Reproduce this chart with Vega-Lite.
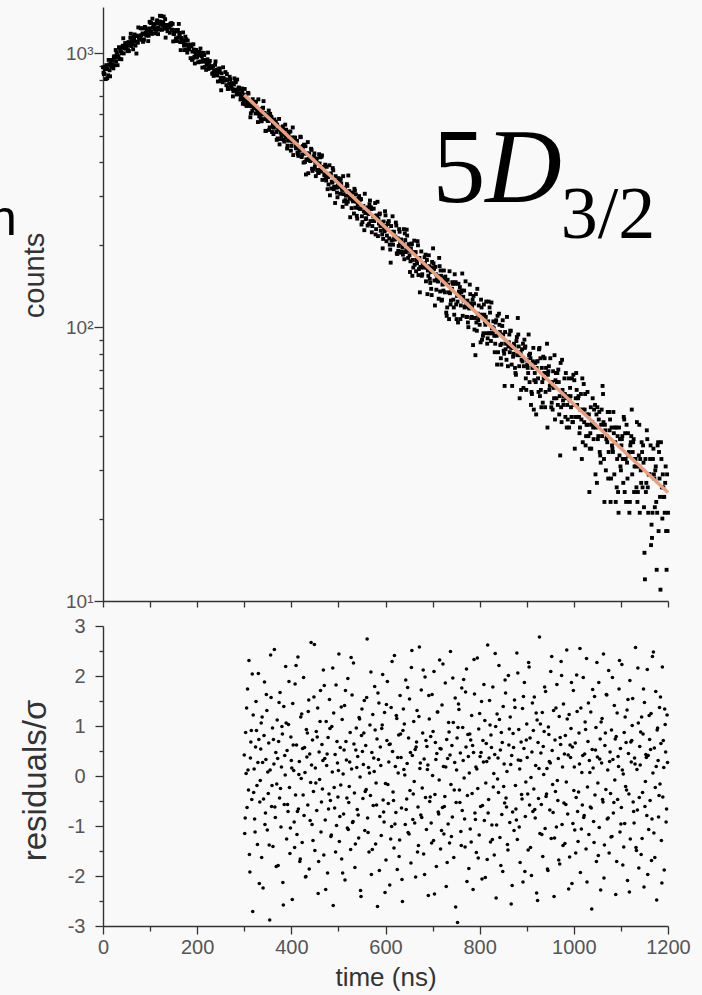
{
"$schema":"https://vega.github.io/schema/vega-lite/v6.json",
"autosize":{"type":"none"},
"padding":{"left":103,"top":7,"right":599,"bottom":988},
"background":"#f9f9f9",
"bounds":"flush",
"spacing":25,
"config":{"view":{"stroke":null},"axis":{"grid":false,"labelFlush":false,"domainColor":"#333","domainWidth":1.4,"tickColor":"#333","tickWidth":1.3,"labelFont":"Liberation Sans","labelFontSize":20,"labelColor":"#555","titleFont":"Liberation Sans","titleFontWeight":"normal","titleColor":"#333"}},
"datasets":{
"fit":[{"t":300,"c":705},{"t":1200,"c":24.9}],
"decay":[
{"t":0,"c":889},{"t":2,"c":839},{"t":4,"c":876},{"t":6,"c":805},{"t":8,"c":899},
{"t":10,"c":876},{"t":12,"c":946},{"t":14,"c":867},{"t":16,"c":915},{"t":18,"c":945},
{"t":20,"c":909},{"t":22,"c":881},{"t":24,"c":976},{"t":26,"c":965},{"t":28,"c":935},
{"t":30,"c":990},{"t":32,"c":976},{"t":34,"c":1053},{"t":36,"c":953},{"t":38,"c":1016},
{"t":40,"c":1001},{"t":42,"c":1066},{"t":44,"c":999},{"t":46,"c":1043},{"t":48,"c":1040},
{"t":50,"c":1066},{"t":52,"c":1018},{"t":54,"c":1099},{"t":56,"c":1072},{"t":58,"c":1139},
{"t":60,"c":1063},{"t":62,"c":1100},{"t":64,"c":1034},{"t":66,"c":1131},{"t":68,"c":1156},
{"t":70,"c":1104},{"t":72,"c":1161},{"t":74,"c":1093},{"t":76,"c":1146},{"t":78,"c":1136},
{"t":80,"c":1234},{"t":82,"c":1120},{"t":84,"c":1182},{"t":86,"c":1112},{"t":88,"c":1174},
{"t":90,"c":1233},{"t":92,"c":1161},{"t":94,"c":1208},{"t":96,"c":1108},{"t":98,"c":1233},
{"t":100,"c":1197},{"t":102,"c":1290},{"t":104,"c":1177},{"t":106,"c":1240},{"t":108,"c":1277},
{"t":110,"c":1223},{"t":112,"c":1182},{"t":114,"c":1303},{"t":116,"c":1284},{"t":118,"c":1238},
{"t":120,"c":1307},{"t":122,"c":1276},{"t":124,"c":1368},{"t":126,"c":1224},{"t":128,"c":1298},
{"t":130,"c":1267},{"t":132,"c":1332},{"t":134,"c":1230},{"t":136,"c":1269},{"t":138,"c":1248},
{"t":140,"c":1263},{"t":142,"c":1188},{"t":144,"c":1267},{"t":146,"c":1219},{"t":148,"c":1280},
{"t":150,"c":1176},{"t":152,"c":1200},{"t":154,"c":1111},{"t":156,"c":1203},{"t":158,"c":1215},
{"t":160,"c":1144},{"t":162,"c":1187},{"t":164,"c":1099},{"t":166,"c":1138},{"t":168,"c":1112},
{"t":170,"c":1192},{"t":172,"c":1066},{"t":174,"c":1112},{"t":176,"c":1028},{"t":178,"c":1074},
{"t":180,"c":1113},{"t":182,"c":1035},{"t":184,"c":1064},{"t":186,"c":960},{"t":188,"c":1059},
{"t":190,"c":1014},{"t":192,"c":1079},{"t":194,"c":971},{"t":196,"c":1011},{"t":198,"c":1029},
{"t":200,"c":972},{"t":202,"c":927},{"t":204,"c":1011},{"t":206,"c":983},{"t":208,"c":934},
{"t":210,"c":975},{"t":212,"c":945},{"t":214,"c":1004},{"t":216,"c":891},{"t":218,"c":937},
{"t":220,"c":907},{"t":222,"c":951},{"t":224,"c":877},{"t":226,"c":902},{"t":228,"c":886},
{"t":230,"c":894},{"t":232,"c":842},{"t":234,"c":898},{"t":236,"c":864},{"t":238,"c":908},
{"t":240,"c":834},{"t":242,"c":852},{"t":244,"c":789},{"t":246,"c":855},{"t":248,"c":864},
{"t":250,"c":813},{"t":252,"c":845},{"t":254,"c":784},{"t":256,"c":813},{"t":258,"c":795},
{"t":260,"c":854},{"t":262,"c":765},{"t":264,"c":799},{"t":266,"c":741},{"t":268,"c":775},
{"t":270,"c":805},{"t":272,"c":749},{"t":274,"c":771},{"t":276,"c":696},{"t":278,"c":769},
{"t":280,"c":737},{"t":282,"c":784},{"t":284,"c":707},{"t":286,"c":736},{"t":288,"c":750},
{"t":290,"c":709},{"t":292,"c":678},{"t":294,"c":738},{"t":296,"c":719},{"t":298,"c":684},
{"t":300,"c":701},{"t":302,"c":651},{"t":304,"c":706},{"t":306,"c":674},{"t":308,"c":717},
{"t":310,"c":646},{"t":312,"c":665},{"t":314,"c":604},{"t":316,"c":670},{"t":318,"c":680},
{"t":320,"c":630},{"t":322,"c":663},{"t":324,"c":603},{"t":326,"c":634},{"t":328,"c":617},
{"t":330,"c":679},{"t":332,"c":588},{"t":334,"c":624},{"t":336,"c":565},{"t":338,"c":600},
{"t":340,"c":633},{"t":342,"c":575},{"t":344,"c":598},{"t":346,"c":521},{"t":348,"c":598},
{"t":350,"c":567},{"t":352,"c":618},{"t":354,"c":536},{"t":356,"c":568},{"t":358,"c":583},
{"t":360,"c":540},{"t":362,"c":507},{"t":364,"c":573},{"t":366,"c":553},{"t":368,"c":516},
{"t":370,"c":549},{"t":372,"c":526},{"t":374,"c":576},{"t":376,"c":486},{"t":378,"c":525},
{"t":380,"c":504},{"t":382,"c":541},{"t":384,"c":483},{"t":386,"c":506},{"t":388,"c":494},
{"t":390,"c":503},{"t":392,"c":460},{"t":394,"c":508},{"t":396,"c":481},{"t":398,"c":518},
{"t":400,"c":459},{"t":402,"c":476},{"t":404,"c":425},{"t":406,"c":481},{"t":408,"c":491},
{"t":410,"c":450},{"t":412,"c":479},{"t":414,"c":428},{"t":416,"c":455},{"t":418,"c":441},
{"t":420,"c":494},{"t":422,"c":418},{"t":424,"c":448},{"t":426,"c":399},{"t":428,"c":430},
{"t":430,"c":458},{"t":432,"c":410},{"t":434,"c":431},{"t":436,"c":365},{"t":438,"c":431},
{"t":440,"c":404},{"t":442,"c":448},{"t":444,"c":379},{"t":446,"c":407},{"t":448,"c":420},
{"t":450,"c":385},{"t":452,"c":356},{"t":454,"c":413},{"t":456,"c":396},{"t":458,"c":366},
{"t":460,"c":396},{"t":462,"c":377},{"t":464,"c":419},{"t":466,"c":345},{"t":468,"c":378},
{"t":470,"c":359},{"t":472,"c":392},{"t":474,"c":343},{"t":476,"c":362},{"t":478,"c":353},
{"t":480,"c":363},{"t":482,"c":303},{"t":484,"c":364},{"t":486,"c":340},{"t":488,"c":381},
{"t":490,"c":319},{"t":492,"c":343},{"t":494,"c":356},{"t":496,"c":323},{"t":498,"c":298},
{"t":500,"c":350},{"t":502,"c":335},{"t":504,"c":307},{"t":506,"c":335},{"t":508,"c":317},
{"t":510,"c":356},{"t":512,"c":288},{"t":514,"c":318},{"t":516,"c":302},{"t":518,"c":333},
{"t":520,"c":287},{"t":522,"c":305},{"t":524,"c":296},{"t":526,"c":304},{"t":528,"c":272},
{"t":530,"c":310},{"t":532,"c":290},{"t":534,"c":320},{"t":536,"c":273},{"t":538,"c":287},
{"t":540,"c":249},{"t":542,"c":294},{"t":544,"c":301},{"t":546,"c":270},{"t":548,"c":293},
{"t":550,"c":254},{"t":552,"c":275},{"t":554,"c":265},{"t":556,"c":307},{"t":558,"c":248},
{"t":560,"c":272},{"t":562,"c":235},{"t":564,"c":259},{"t":566,"c":281},{"t":568,"c":244},
{"t":570,"c":270},{"t":572,"c":234},{"t":574,"c":254},{"t":576,"c":244},{"t":578,"c":284},
{"t":580,"c":228},{"t":582,"c":251},{"t":584,"c":215},{"t":586,"c":239},{"t":588,"c":260},
{"t":590,"c":225},{"t":592,"c":241},{"t":594,"c":194},{"t":596,"c":243},{"t":598,"c":224},
{"t":600,"c":256},{"t":602,"c":206},{"t":604,"c":227},{"t":606,"c":238},{"t":608,"c":211},
{"t":610,"c":192},{"t":612,"c":234},{"t":614,"c":223},{"t":616,"c":200},{"t":618,"c":223},
{"t":620,"c":209},{"t":622,"c":241},{"t":624,"c":186},{"t":626,"c":211},{"t":628,"c":198},
{"t":630,"c":223},{"t":632,"c":187},{"t":634,"c":202},{"t":636,"c":196},{"t":638,"c":202},
{"t":640,"c":177},{"t":642,"c":208},{"t":644,"c":191},{"t":646,"c":216},{"t":648,"c":179},
{"t":650,"c":190},{"t":652,"c":159},{"t":654,"c":194},{"t":656,"c":201},{"t":658,"c":176},
{"t":660,"c":188},{"t":662,"c":169},{"t":664,"c":188},{"t":666,"c":176},{"t":668,"c":206},
{"t":670,"c":155},{"t":672,"c":179},{"t":674,"c":166},{"t":676,"c":189},{"t":678,"c":156},
{"t":680,"c":171},{"t":682,"c":165},{"t":684,"c":171},{"t":686,"c":147},{"t":688,"c":176},
{"t":690,"c":161},{"t":692,"c":183},{"t":694,"c":150},{"t":696,"c":159},{"t":698,"c":131},
{"t":700,"c":165},{"t":702,"c":171},{"t":704,"c":148},{"t":706,"c":166},{"t":708,"c":137},
{"t":710,"c":154},{"t":712,"c":147},{"t":714,"c":179},{"t":716,"c":135},{"t":718,"c":154},
{"t":720,"c":126},{"t":722,"c":144},{"t":724,"c":161},{"t":726,"c":134},{"t":728,"c":147},
{"t":730,"c":110},{"t":732,"c":149},{"t":734,"c":134},{"t":736,"c":160},{"t":738,"c":121},
{"t":740,"c":138},{"t":742,"c":146},{"t":744,"c":126},{"t":746,"c":111},{"t":748,"c":144},
{"t":750,"c":121},{"t":752,"c":130},{"t":754,"c":104},{"t":756,"c":135},{"t":758,"c":140},
{"t":760,"c":120},{"t":762,"c":136},{"t":764,"c":110},{"t":766,"c":125},{"t":768,"c":118},
{"t":770,"c":147},{"t":772,"c":109},{"t":774,"c":125},{"t":776,"c":100},{"t":778,"c":117},
{"t":780,"c":132},{"t":782,"c":108},{"t":784,"c":119},{"t":786,"c":86},{"t":788,"c":122},
{"t":790,"c":108},{"t":792,"c":132},{"t":794,"c":97},{"t":796,"c":112},{"t":798,"c":120},
{"t":800,"c":102},{"t":802,"c":88},{"t":804,"c":118},{"t":806,"c":111},{"t":808,"c":95},
{"t":810,"c":111},{"t":812,"c":102},{"t":814,"c":124},{"t":816,"c":87},{"t":818,"c":105},
{"t":820,"c":95},{"t":822,"c":113},{"t":824,"c":89},{"t":826,"c":99},{"t":828,"c":95},
{"t":830,"c":99},{"t":832,"c":81},{"t":834,"c":104},{"t":836,"c":93},{"t":838,"c":110},
{"t":840,"c":95},{"t":842,"c":102},{"t":844,"c":86},{"t":846,"c":73},{"t":848,"c":101},
{"t":850,"c":94},{"t":852,"c":80},{"t":854,"c":96},{"t":856,"c":87},{"t":858,"c":109},
{"t":860,"c":72},{"t":862,"c":88},{"t":864,"c":81},{"t":866,"c":97},{"t":868,"c":73},
{"t":870,"c":84},{"t":872,"c":80},{"t":874,"c":85},{"t":876,"c":68},{"t":878,"c":89},
{"t":880,"c":79},{"t":882,"c":94},{"t":884,"c":72},{"t":886,"c":79},{"t":888,"c":59},
{"t":890,"c":83},{"t":892,"c":87},{"t":894,"c":72},{"t":896,"c":84},{"t":898,"c":65},
{"t":900,"c":76},{"t":902,"c":71},{"t":904,"c":94},{"t":906,"c":63},{"t":908,"c":77},
{"t":910,"c":58},{"t":912,"c":71},{"t":914,"c":84},{"t":916,"c":64},{"t":918,"c":74},
{"t":920,"c":48},{"t":922,"c":75},{"t":924,"c":65},{"t":926,"c":83},{"t":928,"c":56},
{"t":930,"c":59},{"t":932,"c":71},{"t":934,"c":53},{"t":936,"c":65},{"t":938,"c":77},
{"t":940,"c":58},{"t":942,"c":68},{"t":944,"c":43},{"t":946,"c":69},{"t":948,"c":59},
{"t":950,"c":77},{"t":952,"c":51},{"t":954,"c":63},{"t":956,"c":69},{"t":958,"c":55},
{"t":960,"c":46},{"t":962,"c":68},{"t":964,"c":63},{"t":966,"c":52},{"t":968,"c":63},
{"t":970,"c":56},{"t":972,"c":74},{"t":974,"c":45},{"t":976,"c":59},{"t":978,"c":52},
{"t":980,"c":65},{"t":982,"c":47},{"t":984,"c":55},{"t":986,"c":52},{"t":988,"c":56},
{"t":990,"c":43},{"t":992,"c":60},{"t":994,"c":51},{"t":996,"c":65},{"t":998,"c":45},
{"t":1000,"c":52},{"t":1002,"c":36},{"t":1004,"c":55},{"t":1006,"c":59},{"t":1008,"c":47},
{"t":1010,"c":56},{"t":1012,"c":41},{"t":1014,"c":50},{"t":1016,"c":46},{"t":1018,"c":65},
{"t":1020,"c":50},{"t":1022,"c":45},{"t":1024,"c":57},{"t":1026,"c":40},{"t":1028,"c":48},
{"t":1030,"c":44},{"t":1032,"c":48},{"t":1034,"c":36},{"t":1036,"c":51},{"t":1038,"c":44},
{"t":1040,"c":55},{"t":1042,"c":39},{"t":1044,"c":44},{"t":1046,"c":29},{"t":1048,"c":48},
{"t":1050,"c":51},{"t":1052,"c":40},{"t":1054,"c":49},{"t":1056,"c":34},{"t":1058,"c":44},
{"t":1060,"c":40},{"t":1062,"c":57},{"t":1064,"c":33},{"t":1066,"c":44},{"t":1068,"c":30},
{"t":1070,"c":40},{"t":1072,"c":49},{"t":1074,"c":35},{"t":1076,"c":42},{"t":1078,"c":23},
{"t":1080,"c":43},{"t":1082,"c":36},{"t":1084,"c":49},{"t":1086,"c":29},{"t":1088,"c":38},
{"t":1090,"c":43},{"t":1092,"c":33},{"t":1094,"c":25},{"t":1096,"c":43},{"t":1098,"c":39},
{"t":1100,"c":30},{"t":1102,"c":39},{"t":1104,"c":33},{"t":1106,"c":47},{"t":1108,"c":25},
{"t":1110,"c":33},{"t":1112,"c":44},{"t":1114,"c":28},{"t":1116,"c":34},{"t":1118,"c":21},
{"t":1120,"c":37},{"t":1122,"c":40},{"t":1124,"c":29},{"t":1126,"c":38},{"t":1128,"c":25},
{"t":1130,"c":33},{"t":1132,"c":31},{"t":1134,"c":45},{"t":1136,"c":25},{"t":1138,"c":34},
{"t":1140,"c":21},{"t":1142,"c":30},{"t":1144,"c":38},{"t":1146,"c":26},{"t":1148,"c":32},
{"t":1150,"c":15},{"t":1152,"c":33},{"t":1154,"c":27},{"t":1156,"c":39},{"t":1158,"c":21},
{"t":1160,"c":29},{"t":1162,"c":33},{"t":1164,"c":16},{"t":1166,"c":17},{"t":1168,"c":33},
{"t":1170,"c":29},{"t":1172,"c":22},{"t":1174,"c":31},{"t":1176,"c":13},{"t":1178,"c":37},
{"t":1180,"c":18},{"t":1182,"c":28},{"t":1184,"c":11},{"t":1186,"c":33},{"t":1188,"c":20},
{"t":1190,"c":26},{"t":1192,"c":24},{"t":1194,"c":27},{"t":1196,"c":18},{"t":1198,"c":29},
{"t":1200,"c":21},
{"t":1,"c":849},{"t":3,"c":843},{"t":5,"c":890},{"t":7,"c":905},{"t":9,"c":811},
{"t":11,"c":831},{"t":13,"c":910},{"t":15,"c":824},{"t":17,"c":904},{"t":19,"c":893},
{"t":21,"c":939},{"t":23,"c":967},{"t":25,"c":905},{"t":27,"c":1028},{"t":29,"c":1009},
{"t":31,"c":905},{"t":33,"c":969},{"t":35,"c":1043},{"t":37,"c":1017},{"t":39,"c":951},
{"t":41,"c":1050},{"t":43,"c":1135},{"t":45,"c":1056},{"t":47,"c":1090},{"t":49,"c":1046},
{"t":51,"c":1064},{"t":53,"c":1028},{"t":55,"c":1019},{"t":57,"c":1080},{"t":59,"c":1179},
{"t":61,"c":1115},{"t":63,"c":1077},{"t":65,"c":1149},{"t":67,"c":1172},{"t":69,"c":1067},
{"t":71,"c":998},{"t":73,"c":1101},{"t":75,"c":1243},{"t":77,"c":1130},{"t":79,"c":1153},
{"t":81,"c":1165},{"t":83,"c":1234},{"t":85,"c":1101},{"t":87,"c":1124},{"t":89,"c":1248},
{"t":91,"c":1189},{"t":93,"c":1213},{"t":95,"c":1165},{"t":97,"c":1159},{"t":99,"c":1303},
{"t":101,"c":1293},{"t":103,"c":1202},{"t":105,"c":1338},{"t":107,"c":1247},{"t":109,"c":1279},
{"t":111,"c":1236},{"t":113,"c":1218},{"t":115,"c":1320},{"t":117,"c":1175},{"t":119,"c":1220},
{"t":121,"c":1371},{"t":123,"c":1301},{"t":125,"c":1219},{"t":127,"c":1265},{"t":129,"c":1362},
{"t":131,"c":1244},{"t":133,"c":1141},{"t":135,"c":1243},{"t":137,"c":1204},{"t":139,"c":1260},
{"t":141,"c":1240},{"t":143,"c":1280},{"t":145,"c":1290},{"t":147,"c":1219},{"t":149,"c":1105},
{"t":151,"c":1177},{"t":153,"c":1216},{"t":155,"c":1135},{"t":157,"c":1109},{"t":159,"c":1217},
{"t":161,"c":1280},{"t":163,"c":1174},{"t":165,"c":1027},{"t":167,"c":1136},{"t":169,"c":1109},
{"t":171,"c":1096},{"t":173,"c":1027},{"t":175,"c":1150},{"t":177,"c":1124},{"t":179,"c":1006},
{"t":181,"c":1058},{"t":183,"c":1034},{"t":185,"c":1073},{"t":187,"c":1076},{"t":189,"c":946},
{"t":191,"c":957},{"t":193,"c":1032},{"t":195,"c":918},{"t":197,"c":992},{"t":199,"c":965},
{"t":201,"c":998},{"t":203,"c":1011},{"t":205,"c":930},{"t":207,"c":1041},{"t":209,"c":1004},
{"t":211,"c":887},{"t":213,"c":932},{"t":215,"c":986},{"t":217,"c":946},{"t":219,"c":870},
{"t":221,"c":945},{"t":223,"c":1006},{"t":225,"c":922},{"t":227,"c":938},{"t":229,"c":886},
{"t":231,"c":887},{"t":233,"c":846},{"t":235,"c":827},{"t":237,"c":865},{"t":239,"c":934},
{"t":241,"c":870},{"t":243,"c":830},{"t":245,"c":875},{"t":247,"c":881},{"t":249,"c":792},
{"t":251,"c":733},{"t":253,"c":797},{"t":255,"c":889},{"t":257,"c":797},{"t":259,"c":803},
{"t":261,"c":802},{"t":263,"c":840},{"t":265,"c":741},{"t":267,"c":748},{"t":269,"c":821},
{"t":271,"c":772},{"t":273,"c":779},{"t":275,"c":740},{"t":277,"c":727},{"t":279,"c":810},
{"t":281,"c":792},{"t":283,"c":728},{"t":285,"c":802},{"t":287,"c":737},{"t":289,"c":748},
{"t":291,"c":714},{"t":293,"c":695},{"t":295,"c":744},{"t":297,"c":654},{"t":299,"c":671},
{"t":301,"c":741},{"t":303,"c":695},{"t":305,"c":642},{"t":307,"c":663},{"t":309,"c":713},
{"t":311,"c":643},{"t":313,"c":584},{"t":315,"c":641},{"t":317,"c":617},{"t":319,"c":649},
{"t":321,"c":636},{"t":323,"c":660},{"t":325,"c":666},{"t":327,"c":625},{"t":329,"c":561},
{"t":331,"c":603},{"t":333,"c":626},{"t":335,"c":580},{"t":337,"c":565},{"t":339,"c":629},
{"t":341,"c":669},{"t":343,"c":606},{"t":345,"c":520},{"t":347,"c":588},{"t":349,"c":573},
{"t":351,"c":566},{"t":353,"c":525},{"t":355,"c":601},{"t":357,"c":587},{"t":359,"c":516},
{"t":361,"c":549},{"t":363,"c":535},{"t":365,"c":561},{"t":367,"c":563},{"t":369,"c":483},
{"t":371,"c":489},{"t":373,"c":537},{"t":375,"c":465},{"t":377,"c":513},{"t":379,"c":496},
{"t":381,"c":518},{"t":383,"c":527},{"t":385,"c":476},{"t":387,"c":549},{"t":389,"c":526},
{"t":391,"c":449},{"t":393,"c":480},{"t":395,"c":517},{"t":397,"c":491},{"t":399,"c":441},
{"t":401,"c":493},{"t":403,"c":536},{"t":405,"c":480},{"t":407,"c":493},{"t":409,"c":458},
{"t":411,"c":461},{"t":413,"c":434},{"t":415,"c":422},{"t":417,"c":448},{"t":419,"c":496},
{"t":421,"c":453},{"t":423,"c":426},{"t":425,"c":459},{"t":427,"c":464},{"t":429,"c":401},
{"t":431,"c":361},{"t":433,"c":408},{"t":435,"c":474},{"t":437,"c":410},{"t":439,"c":416},
{"t":441,"c":415},{"t":443,"c":444},{"t":445,"c":372},{"t":447,"c":378},{"t":449,"c":431},
{"t":451,"c":398},{"t":453,"c":403},{"t":455,"c":375},{"t":457,"c":366},{"t":459,"c":428},
{"t":461,"c":417},{"t":463,"c":370},{"t":465,"c":424},{"t":467,"c":377},{"t":469,"c":385},
{"t":471,"c":362},{"t":473,"c":348},{"t":475,"c":385},{"t":477,"c":319},{"t":479,"c":332},
{"t":481,"c":390},{"t":483,"c":358},{"t":485,"c":321},{"t":487,"c":337},{"t":489,"c":374},
{"t":491,"c":325},{"t":493,"c":284},{"t":495,"c":326},{"t":497,"c":310},{"t":499,"c":334},
{"t":501,"c":325},{"t":503,"c":343},{"t":505,"c":348},{"t":507,"c":321},{"t":509,"c":275},
{"t":511,"c":306},{"t":513,"c":323},{"t":515,"c":291},{"t":517,"c":282},{"t":519,"c":328},
{"t":521,"c":358},{"t":523,"c":314},{"t":525,"c":252},{"t":527,"c":302},{"t":529,"c":293},
{"t":531,"c":288},{"t":533,"c":260},{"t":535,"c":315},{"t":537,"c":305},{"t":539,"c":255},
{"t":541,"c":281},{"t":543,"c":272},{"t":545,"c":291},{"t":547,"c":294},{"t":549,"c":237},
{"t":551,"c":242},{"t":553,"c":277},{"t":555,"c":226},{"t":557,"c":261},{"t":559,"c":250},
{"t":561,"c":267},{"t":563,"c":274},{"t":565,"c":238},{"t":567,"c":290},{"t":569,"c":274},
{"t":571,"c":222},{"t":573,"c":244},{"t":575,"c":271},{"t":577,"c":254},{"t":579,"c":218},
{"t":581,"c":256},{"t":583,"c":287},{"t":585,"c":248},{"t":587,"c":258},{"t":589,"c":234},
{"t":591,"c":237},{"t":593,"c":218},{"t":595,"c":210},{"t":597,"c":230},{"t":599,"c":265},
{"t":601,"c":234},{"t":603,"c":216},{"t":605,"c":240},{"t":607,"c":244},{"t":609,"c":200},
{"t":611,"c":172},{"t":613,"c":207},{"t":615,"c":254},{"t":617,"c":209},{"t":619,"c":214},
{"t":621,"c":214},{"t":623,"c":235},{"t":625,"c":185},{"t":627,"c":190},{"t":629,"c":228},
{"t":631,"c":204},{"t":633,"c":209},{"t":635,"c":189},{"t":637,"c":184},{"t":639,"c":228},
{"t":641,"c":220},{"t":643,"c":188},{"t":645,"c":227},{"t":647,"c":195},{"t":649,"c":201},
{"t":651,"c":183},{"t":653,"c":174},{"t":655,"c":202},{"t":657,"c":154},{"t":659,"c":165},
{"t":661,"c":207},{"t":663,"c":186},{"t":665,"c":160},{"t":667,"c":171},{"t":669,"c":199},
{"t":671,"c":163},{"t":673,"c":134},{"t":675,"c":165},{"t":677,"c":154},{"t":679,"c":171},
{"t":681,"c":166},{"t":683,"c":180},{"t":685,"c":184},{"t":687,"c":165},{"t":689,"c":132},
{"t":691,"c":154},{"t":693,"c":167},{"t":695,"c":145},{"t":697,"c":138},{"t":699,"c":173},
{"t":701,"c":194},{"t":703,"c":163},{"t":705,"c":120},{"t":707,"c":156},{"t":709,"c":149},
{"t":711,"c":147},{"t":713,"c":127},{"t":715,"c":167},{"t":717,"c":161},{"t":719,"c":125},
{"t":721,"c":143},{"t":723,"c":136},{"t":725,"c":151},{"t":727,"c":153},{"t":729,"c":113},
{"t":731,"c":118},{"t":733,"c":143},{"t":735,"c":107},{"t":737,"c":133},{"t":739,"c":125},
{"t":741,"c":138},{"t":743,"c":144},{"t":745,"c":118},{"t":747,"c":156},{"t":749,"c":146},
{"t":751,"c":107},{"t":753,"c":124},{"t":755,"c":144},{"t":757,"c":132},{"t":759,"c":107},
{"t":761,"c":134},{"t":763,"c":157},{"t":765,"c":129},{"t":767,"c":136},{"t":769,"c":119},
{"t":771,"c":123},{"t":773,"c":109},{"t":775,"c":104},{"t":777,"c":118},{"t":779,"c":143},
{"t":781,"c":122},{"t":783,"c":109},{"t":785,"c":126},{"t":787,"c":130},{"t":789,"c":98},
{"t":791,"c":79},{"t":793,"c":104},{"t":795,"c":138},{"t":797,"c":106},{"t":799,"c":109},
{"t":801,"c":111},{"t":803,"c":126},{"t":805,"c":90},{"t":807,"c":93},{"t":809,"c":121},
{"t":811,"c":105},{"t":813,"c":109},{"t":815,"c":95},{"t":817,"c":91},{"t":819,"c":124},
{"t":821,"c":118},{"t":823,"c":95},{"t":825,"c":123},{"t":827,"c":100},{"t":829,"c":105},
{"t":831,"c":93},{"t":833,"c":87},{"t":835,"c":106},{"t":837,"c":73},{"t":839,"c":81},
{"t":841,"c":112},{"t":843,"c":96},{"t":845,"c":77},{"t":847,"c":87},{"t":849,"c":106},
{"t":851,"c":82},{"t":853,"c":61},{"t":855,"c":83},{"t":857,"c":76},{"t":859,"c":88},
{"t":861,"c":85},{"t":863,"c":94},{"t":865,"c":97},{"t":867,"c":84},{"t":869,"c":61},
{"t":871,"c":78},{"t":873,"c":87},{"t":875,"c":71},{"t":877,"c":67},{"t":879,"c":92},
{"t":881,"c":108},{"t":883,"c":85},{"t":885,"c":55},{"t":887,"c":81},{"t":889,"c":76},
{"t":891,"c":75},{"t":893,"c":60},{"t":895,"c":90},{"t":897,"c":85},{"t":899,"c":59},
{"t":901,"c":73},{"t":903,"c":68},{"t":905,"c":79},{"t":907,"c":80},{"t":909,"c":52},
{"t":911,"c":57},{"t":913,"c":75},{"t":915,"c":50},{"t":917,"c":68},{"t":919,"c":63},
{"t":921,"c":71},{"t":923,"c":75},{"t":925,"c":58},{"t":927,"c":84},{"t":929,"c":77},
{"t":931,"c":51},{"t":933,"c":63},{"t":935,"c":78},{"t":937,"c":68},{"t":939,"c":51},
{"t":941,"c":71},{"t":943,"c":87},{"t":945,"c":67},{"t":947,"c":72},{"t":949,"c":61},
{"t":951,"c":63},{"t":953,"c":53},{"t":955,"c":50},{"t":957,"c":60},{"t":959,"c":79},
{"t":961,"c":64},{"t":963,"c":55},{"t":965,"c":68},{"t":967,"c":70},{"t":969,"c":48},
{"t":971,"c":34},{"t":973,"c":51},{"t":975,"c":76},{"t":977,"c":54},{"t":979,"c":56},
{"t":981,"c":57},{"t":983,"c":68},{"t":985,"c":43},{"t":987,"c":46},{"t":989,"c":65},
{"t":991,"c":54},{"t":993,"c":56},{"t":995,"c":47},{"t":997,"c":45},{"t":999,"c":67},
{"t":1001,"c":64},{"t":1003,"c":47},{"t":1005,"c":68},{"t":1007,"c":52},{"t":1009,"c":55},
{"t":1011,"c":47},{"t":1013,"c":43},{"t":1015,"c":57},{"t":1017,"c":33},{"t":1019,"c":38},
{"t":1021,"c":62},{"t":1023,"c":50},{"t":1025,"c":37},{"t":1027,"c":44},{"t":1029,"c":58},
{"t":1031,"c":40},{"t":1033,"c":25},{"t":1035,"c":41},{"t":1037,"c":36},{"t":1039,"c":45},
{"t":1041,"c":43},{"t":1043,"c":50},{"t":1045,"c":52},{"t":1047,"c":43},{"t":1049,"c":27},
{"t":1051,"c":39},{"t":1053,"c":46},{"t":1055,"c":35},{"t":1057,"c":32},{"t":1059,"c":50},
{"t":1061,"c":61},{"t":1063,"c":45},{"t":1065,"c":23},{"t":1067,"c":42},{"t":1069,"c":39},
{"t":1071,"c":38},{"t":1073,"c":28},{"t":1075,"c":49},{"t":1077,"c":46},{"t":1079,"c":28},
{"t":1081,"c":37},{"t":1083,"c":35},{"t":1085,"c":41},{"t":1087,"c":43},{"t":1089,"c":23},
{"t":1091,"c":26},{"t":1093,"c":40},{"t":1095,"c":21},{"t":1097,"c":34},{"t":1099,"c":31},
{"t":1101,"c":37},{"t":1103,"c":40},{"t":1105,"c":27},{"t":1107,"c":46},{"t":1109,"c":41},
{"t":1111,"c":23},{"t":1113,"c":32},{"t":1115,"c":41},{"t":1117,"c":35},{"t":1119,"c":23},
{"t":1121,"c":38},{"t":1123,"c":50},{"t":1125,"c":35},{"t":1127,"c":39},{"t":1129,"c":31},
{"t":1131,"c":33},{"t":1133,"c":26},{"t":1135,"c":23},{"t":1137,"c":31},{"t":1139,"c":44},
{"t":1141,"c":33},{"t":1143,"c":27},{"t":1145,"c":35},{"t":1147,"c":37},{"t":1149,"c":22},
{"t":1151,"c":12},{"t":1153,"c":25},{"t":1155,"c":42},{"t":1157,"c":26},{"t":1159,"c":29},
{"t":1161,"c":29},{"t":1163,"c":37},{"t":1165,"c":19},{"t":1167,"c":21},{"t":1169,"c":36},
{"t":1171,"c":28},{"t":1173,"c":30},{"t":1175,"c":23},{"t":1177,"c":21},{"t":1179,"c":38},
{"t":1181,"c":35},{"t":1183,"c":24},{"t":1185,"c":38},{"t":1187,"c":26},{"t":1189,"c":29},
{"t":1191,"c":24},{"t":1193,"c":21},{"t":1195,"c":31},{"t":1197,"c":13},{"t":1199,"c":18}
],
"resid":[
{"t":300,"r":0.42},{"t":301,"r":-1.15},{"t":303,"r":0.87},{"t":304,"r":0.05},{"t":306,"r":-0.63},{"t":307,"r":1.74},{"t":309,"r":-0.28},{"t":310,"r":2.31},{"t":312,"r":-1.92},{"t":313,"r":0.36},
{"t":315,"r":0.91},{"t":316,"r":-0.47},{"t":318,"r":-2.71},{"t":319,"r":1.22},{"t":321,"r":0.14},{"t":322,"r":-0.86},{"t":324,"r":0.58},{"t":325,"r":1.49},{"t":327,"r":-0.19},{"t":328,"r":-1.37},
{"t":330,"r":2.05},{"t":331,"r":0.73},{"t":333,"r":-0.52},{"t":334,"r":-0.09},{"t":336,"r":1.06},{"t":337,"r":-1.63},{"t":339,"r":0.27},{"t":340,"r":-2.24},{"t":342,"r":0.81},{"t":343,"r":1.88},
{"t":345,"r":-0.74},{"t":346,"r":0.33},{"t":348,"r":1.31},{"t":349,"r":-1.08},{"t":351,"r":-0.35},{"t":352,"r":0.66},{"t":354,"r":-2.88},{"t":355,"r":0.12},{"t":357,"r":1.57},{"t":358,"r":-0.61},
{"t":360,"r":0.96},{"t":361,"r":-1.41},{"t":363,"r":0.24},{"t":364,"r":2.53},{"t":366,"r":-0.83},{"t":367,"r":0.47},{"t":369,"r":-0.16},{"t":370,"r":1.12},{"t":372,"r":-1.79},{"t":373,"r":0.69},
{"t":375,"r":-0.44},{"t":376,"r":1.67},{"t":378,"r":-1.02},{"t":379,"r":0.18},{"t":381,"r":0.84},{"t":382,"r":-2.13},{"t":384,"r":1.39},{"t":385,"r":-0.57},{"t":387,"r":0.02},{"t":388,"r":2.19},
{"t":390,"r":-1.26},{"t":391,"r":0.51},{"t":393,"r":-0.71},{"t":394,"r":1.03},{"t":396,"r":-0.23},{"t":397,"r":-1.55},{"t":399,"r":0.78},{"t":400,"r":0.31},{"t":402,"r":-2.47},{"t":403,"r":1.45},
{"t":405,"r":0.11},{"t":406,"r":-0.92},{"t":408,"r":1.84},{"t":409,"r":-0.38},{"t":411,"r":0.62},{"t":412,"r":-1.17},{"t":414,"r":2.38},{"t":415,"r":-0.66},{"t":417,"r":0.29},{"t":418,"r":-1.71},
{"t":420,"r":1.18},{"t":421,"r":-0.05},{"t":423,"r":-1.33},{"t":424,"r":0.55},{"t":426,"r":1.97},{"t":427,"r":-0.79},{"t":429,"r":0.07},{"t":430,"r":-2.02},{"t":432,"r":0.93},{"t":433,"r":0.38},
{"t":435,"r":-0.58},{"t":436,"r":1.29},{"t":438,"r":-1.86},{"t":439,"r":0.44},{"t":441,"r":-0.13},{"t":442,"r":2.67},{"t":444,"r":-0.97},{"t":445,"r":0.72},{"t":447,"r":-0.31},{"t":448,"r":1.58},
{"t":450,"r":-1.49},{"t":451,"r":0.16},{"t":453,"r":0.89},{"t":454,"r":-0.69},{"t":456,"r":1.36},{"t":457,"r":-2.35},{"t":459,"r":0.48},{"t":460,"r":-0.07},{"t":462,"r":1.71},{"t":463,"r":-1.12},
{"t":465,"r":0.63},{"t":466,"r":-0.26},{"t":468,"r":2.12},{"t":469,"r":-1.58},{"t":471,"r":0.35},{"t":472,"r":-0.88},{"t":474,"r":1.09},{"t":475,"r":0.21},{"t":477,"r":-1.94},{"t":478,"r":0.77},
{"t":480,"r":-0.36},{"t":481,"r":1.53},{"t":483,"r":-0.49},{"t":484,"r":-1.21},{"t":486,"r":0.99},{"t":487,"r":0.08},{"t":489,"r":-2.59},{"t":490,"r":1.26},{"t":492,"r":-0.64},{"t":493,"r":0.43},
{"t":495,"r":1.82},{"t":496,"r":-0.99},{"t":498,"r":0.26},{"t":499,"r":-0.42},{"t":501,"r":2.44},{"t":502,"r":-1.31},{"t":504,"r":0.57},{"t":505,"r":-0.18},{"t":507,"r":-1.66},{"t":508,"r":1.13},
{"t":510,"r":0.04},{"t":511,"r":-0.76},{"t":513,"r":1.41},{"t":514,"r":-2.08},{"t":516,"r":0.69},{"t":517,"r":0.32},{"t":519,"r":-1.04},{"t":520,"r":1.95},{"t":522,"r":-0.53},{"t":523,"r":-0.21},
{"t":525,"r":0.87},{"t":526,"r":-1.47},{"t":528,"r":0.14},{"t":529,"r":1.62},{"t":531,"r":-0.91},{"t":532,"r":2.26},{"t":534,"r":-0.34},{"t":535,"r":-1.83},{"t":537,"r":0.52},{"t":538,"r":0.96},
{"t":540,"r":-0.67},{"t":541,"r":0.39},{"t":543,"r":-1.24},{"t":544,"r":1.17},{"t":546,"r":-0.02},{"t":547,"r":-2.29},{"t":549,"r":0.81},{"t":550,"r":1.34},{"t":552,"r":-0.45},{"t":553,"r":0.23},
{"t":555,"r":1.51},{"t":556,"r":-1.09},{"t":558,"r":0.61},{"t":559,"r":-0.27},{"t":561,"r":2.74},{"t":562,"r":-0.84},{"t":564,"r":0.17},{"t":565,"r":-1.52},{"t":567,"r":1.02},{"t":568,"r":-0.39},
{"t":570,"r":-1.97},{"t":571,"r":0.47},{"t":573,"r":1.23},{"t":574,"r":-0.59},{"t":576,"r":0.09},{"t":577,"r":1.79},{"t":579,"r":-1.36},{"t":580,"r":-0.14},{"t":582,"r":0.74},{"t":583,"r":-2.61},
{"t":585,"r":0.33},{"t":586,"r":1.46},{"t":588,"r":-0.81},{"t":589,"r":0.58},{"t":591,"r":-1.19},{"t":592,"r":0.95},{"t":594,"r":2.03},{"t":595,"r":-0.48},{"t":597,"r":-0.92},{"t":598,"r":1.27},
{"t":600,"r":-0.15},{"t":601,"r":-1.68},{"t":603,"r":0.71},{"t":604,"r":1.89},{"t":606,"r":-0.55},{"t":607,"r":0.28},{"t":609,"r":-2.18},{"t":610,"r":0.64},{"t":612,"r":1.37},{"t":613,"r":-1.01},
{"t":615,"r":0.49},{"t":616,"r":-0.32},{"t":618,"r":-1.44},{"t":619,"r":2.41},{"t":621,"r":0.19},{"t":622,"r":-0.73},{"t":624,"r":1.15},{"t":625,"r":-1.87},{"t":627,"r":0.06},{"t":628,"r":0.82},
{"t":630,"r":-1.28},{"t":631,"r":1.61},{"t":633,"r":0.37},{"t":634,"r":-0.64},{"t":636,"r":-2.51},{"t":637,"r":0.91},{"t":639,"r":0.13},{"t":640,"r":1.04},{"t":642,"r":-0.97},{"t":643,"r":1.92},
{"t":645,"r":-0.46},{"t":646,"r":0.25},{"t":648,"r":-1.13},{"t":649,"r":0.76},{"t":651,"r":1.54},{"t":652,"r":-0.29},{"t":654,"r":-1.74},{"t":655,"r":2.17},{"t":657,"r":0.41},{"t":658,"r":-0.87},
{"t":660,"r":1.09},{"t":661,"r":-0.11},{"t":663,"r":0.53},{"t":664,"r":-2.02},{"t":666,"r":0.68},{"t":667,"r":1.31},{"t":669,"r":-0.62},{"t":670,"r":-1.39},{"t":672,"r":2.58},{"t":673,"r":0.15},
{"t":675,"r":-0.78},{"t":676,"r":1.72},{"t":678,"r":-0.24},{"t":679,"r":0.86},{"t":681,"r":-1.56},{"t":682,"r":0.34},{"t":684,"r":1.98},{"t":685,"r":-0.43},{"t":687,"r":-1.07},{"t":688,"r":0.59},
{"t":690,"r":0.22},{"t":691,"r":-2.39},{"t":693,"r":1.14},{"t":694,"r":-0.51},{"t":696,"r":0.79},{"t":697,"r":-0.94},{"t":699,"r":1.63},{"t":700,"r":0.01},{"t":702,"r":-1.29},{"t":703,"r":2.09},
{"t":705,"r":-0.37},{"t":706,"r":0.67},{"t":708,"r":-1.81},{"t":709,"r":0.45},{"t":711,"r":1.28},{"t":712,"r":-0.72},{"t":714,"r":-0.08},{"t":715,"r":2.32},{"t":717,"r":-1.46},{"t":718,"r":0.54},
{"t":720,"r":1.42},{"t":721,"r":-0.63},{"t":723,"r":0.19},{"t":724,"r":-1.16},{"t":726,"r":-0.41},{"t":727,"r":1.86},{"t":729,"r":-2.21},{"t":730,"r":0.73},{"t":732,"r":0.35},{"t":733,"r":-0.96},
{"t":735,"r":0.88},{"t":736,"r":-1.34},{"t":738,"r":2.49},{"t":739,"r":-0.17},{"t":741,"r":0.61},{"t":742,"r":-0.82},{"t":744,"r":1.07},{"t":745,"r":-1.63},{"t":747,"r":0.27},{"t":748,"r":1.56},
{"t":750,"r":-0.53},{"t":751,"r":0.12},{"t":753,"r":-2.93},{"t":754,"r":0.97},{"t":756,"r":1.33},{"t":757,"r":-0.28},{"t":759,"r":0.46},{"t":760,"r":-1.11},{"t":762,"r":1.76},{"t":763,"r":-0.69},
{"t":765,"r":0.31},{"t":766,"r":1.93},{"t":768,"r":-0.86},{"t":769,"r":-1.42},{"t":771,"r":0.58},{"t":772,"r":2.14},{"t":774,"r":-0.39},{"t":775,"r":0.83},{"t":777,"r":-1.85},{"t":778,"r":0.06},
{"t":780,"r":-1.06},{"t":781,"r":0.72},{"t":783,"r":1.21},{"t":784,"r":-0.35},{"t":786,"r":-2.27},{"t":787,"r":0.47},{"t":789,"r":1.64},{"t":790,"r":-0.74},{"t":792,"r":0.18},{"t":793,"r":-1.53},
{"t":795,"r":2.36},{"t":796,"r":-0.25},{"t":798,"r":0.94},{"t":799,"r":-1.18},{"t":801,"r":0.39},{"t":802,"r":-0.61},{"t":804,"r":1.49},{"t":805,"r":-2.06},{"t":807,"r":0.71},{"t":808,"r":0.28},
{"t":810,"r":-0.89},{"t":811,"r":1.11},{"t":813,"r":-0.14},{"t":814,"r":0.65},{"t":816,"r":-1.67},{"t":817,"r":2.62},{"t":819,"r":-0.47},{"t":820,"r":0.36},{"t":822,"r":1.02},{"t":823,"r":-1.32},
{"t":825,"r":0.57},{"t":826,"r":-0.98},{"t":828,"r":1.78},{"t":829,"r":-0.22},{"t":831,"r":-1.58},{"t":832,"r":0.43},{"t":834,"r":0.99},{"t":835,"r":-2.44},{"t":837,"r":1.24},{"t":838,"r":-0.06},
{"t":840,"r":-0.33},{"t":841,"r":2.21},{"t":843,"r":-1.23},{"t":844,"r":0.52},{"t":846,"r":0.87},{"t":847,"r":-0.77},{"t":849,"r":-1.91},{"t":850,"r":1.39},{"t":852,"r":0.24},{"t":853,"r":-0.54},
{"t":855,"r":1.66},{"t":856,"r":-0.44},{"t":858,"r":0.09},{"t":859,"r":-1.37},{"t":861,"r":2.01},{"t":862,"r":0.62},{"t":864,"r":-0.93},{"t":865,"r":1.18},{"t":867,"r":-2.56},{"t":868,"r":0.41},
{"t":870,"r":-0.72},{"t":871,"r":0.85},{"t":873,"r":-1.09},{"t":874,"r":1.52},{"t":876,"r":-0.19},{"t":877,"r":-0.66},{"t":879,"r":2.46},{"t":880,"r":-1.27},{"t":882,"r":0.32},{"t":883,"r":0.93},
{"t":885,"r":0.14},{"t":886,"r":-1.73},{"t":888,"r":0.68},{"t":889,"r":-0.37},{"t":891,"r":1.35},{"t":892,"r":-2.12},{"t":894,"r":0.55},{"t":895,"r":1.87},{"t":897,"r":-0.81},{"t":898,"r":-0.12},
{"t":900,"r":1.04},{"t":901,"r":0.37},{"t":903,"r":-1.48},{"t":904,"r":2.27},{"t":906,"r":-0.58},{"t":907,"r":0.76},{"t":909,"r":-0.03},{"t":910,"r":-1.99},{"t":912,"r":1.46},{"t":913,"r":-0.71},
{"t":915,"r":-0.26},{"t":916,"r":1.58},{"t":918,"r":-0.84},{"t":919,"r":0.21},{"t":921,"r":-2.34},{"t":922,"r":1.12},{"t":924,"r":0.67},{"t":925,"r":-0.45},{"t":927,"r":2.78},{"t":928,"r":-1.15},
{"t":930,"r":0.46},{"t":931,"r":-0.57},{"t":933,"r":1.27},{"t":934,"r":-1.61},{"t":936,"r":0.03},{"t":937,"r":0.89},{"t":939,"r":-1.05},{"t":940,"r":1.69},{"t":942,"r":-0.36},{"t":943,"r":0.15},
{"t":945,"r":-1.89},{"t":946,"r":0.98},{"t":948,"r":0.29},{"t":949,"r":-0.68},{"t":951,"r":2.09},{"t":952,"r":-1.25},{"t":954,"r":0.51},{"t":955,"r":-0.17},{"t":957,"r":1.31},{"t":958,"r":-2.41},
{"t":960,"r":0.72},{"t":961,"r":-0.31},{"t":963,"r":-1.02},{"t":964,"r":1.83},{"t":966,"r":-0.49},{"t":967,"r":0.35},{"t":969,"r":1.19},{"t":970,"r":-1.76},{"t":972,"r":0.63},{"t":973,"r":2.29},
{"t":975,"r":-0.97},{"t":976,"r":0.18},{"t":978,"r":1.44},{"t":979,"r":-0.54},{"t":981,"r":-1.35},{"t":982,"r":0.81},{"t":984,"r":-0.12},{"t":985,"r":2.52},{"t":987,"r":-0.76},{"t":988,"r":0.42},
{"t":990,"r":1.23},{"t":991,"r":-1.62},{"t":993,"r":0.37},{"t":994,"r":0.95},{"t":996,"r":-2.15},{"t":997,"r":0.58},{"t":999,"r":1.71},{"t":1000,"r":-0.29},{"t":1002,"r":-1.08},{"t":1003,"r":0.66},
{"t":1005,"r":-0.43},{"t":1006,"r":2.02},{"t":1008,"r":-0.71},{"t":1009,"r":-1.31},{"t":1011,"r":0.86},{"t":1012,"r":0.24},{"t":1014,"r":-1.93},{"t":1015,"r":1.36},{"t":1017,"r":0.07},{"t":1018,"r":-0.58},
{"t":1020,"r":1.97},{"t":1021,"r":-0.83},{"t":1023,"r":0.44},{"t":1024,"r":1.08},{"t":1026,"r":-1.46},{"t":1027,"r":2.35},{"t":1029,"r":-0.22},{"t":1030,"r":0.69},{"t":1032,"r":-1.17},{"t":1033,"r":0.31},
{"t":1035,"r":-0.62},{"t":1036,"r":1.28},{"t":1038,"r":-2.66},{"t":1039,"r":0.53},{"t":1041,"r":0.16},{"t":1042,"r":-0.91},{"t":1044,"r":1.59},{"t":1045,"r":-0.38},{"t":1047,"r":0.97},{"t":1048,"r":-1.71},
{"t":1050,"r":0.38},{"t":1051,"r":-0.14},{"t":1053,"r":1.87},{"t":1054,"r":-1.03},{"t":1056,"r":0.74},{"t":1057,"r":-2.28},{"t":1059,"r":0.26},{"t":1060,"r":1.15},{"t":1062,"r":-0.52},{"t":1063,"r":2.44},
{"t":1065,"r":-1.38},{"t":1066,"r":0.61},{"t":1068,"r":-0.27},{"t":1069,"r":1.63},{"t":1071,"r":-0.86},{"t":1072,"r":0.12},{"t":1074,"r":2.11},{"t":1075,"r":-1.54},{"t":1077,"r":0.48},{"t":1078,"r":-0.35},
{"t":1080,"r":0.92},{"t":1081,"r":-1.21},{"t":1083,"r":0.33},{"t":1084,"r":-0.74},{"t":1086,"r":1.41},{"t":1087,"r":-0.08},{"t":1089,"r":-2.37},{"t":1090,"r":0.79},{"t":1092,"r":1.26},{"t":1093,"r":-0.47},
{"t":1095,"r":0.19},{"t":1096,"r":1.74},{"t":1098,"r":-1.12},{"t":1099,"r":0.55},{"t":1101,"r":-0.63},{"t":1102,"r":2.23},{"t":1104,"r":-1.78},{"t":1105,"r":0.04},{"t":1107,"r":0.87},{"t":1108,"r":-0.95},
{"t":1110,"r":-0.21},{"t":1111,"r":0.67},{"t":1113,"r":1.32},{"t":1114,"r":-2.09},{"t":1116,"r":0.45},{"t":1117,"r":-0.36},{"t":1119,"r":1.91},{"t":1120,"r":-1.26},{"t":1122,"r":0.28},{"t":1123,"r":0.71},
{"t":1125,"r":1.55},{"t":1126,"r":-0.52},{"t":1128,"r":-0.94},{"t":1129,"r":0.36},{"t":1131,"r":2.57},{"t":1132,"r":-1.43},{"t":1134,"r":0.13},{"t":1135,"r":-0.68},{"t":1137,"r":1.06},{"t":1138,"r":-1.84},
{"t":1140,"r":0.59},{"t":1141,"r":0.22},{"t":1143,"r":-1.57},{"t":1144,"r":1.18},{"t":1146,"r":-0.33},{"t":1147,"r":0.84},{"t":1149,"r":-2.22},{"t":1150,"r":1.47},{"t":1152,"r":-0.11},{"t":1153,"r":0.43},
{"t":1155,"r":-0.79},{"t":1156,"r":2.13},{"t":1158,"r":0.41},{"t":1159,"r":-1.07},{"t":1161,"r":0.73},{"t":1162,"r":-0.49},{"t":1164,"r":1.25},{"t":1165,"r":-1.69},{"t":1167,"r":2.39},{"t":1168,"r":0.06},
{"t":1170,"r":-1.14},{"t":1171,"r":0.56},{"t":1173,"r":-0.23},{"t":1174,"r":1.69},{"t":1176,"r":-2.48},{"t":1177,"r":0.92},{"t":1179,"r":0.31},{"t":1180,"r":-0.82},{"t":1182,"r":1.37},{"t":1183,"r":-0.16},
{"t":1185,"r":0.65},{"t":1186,"r":-1.29},{"t":1188,"r":2.18},{"t":1189,"r":-0.42},{"t":1191,"r":0.17},{"t":1192,"r":-1.88},{"t":1194,"r":1.03},{"t":1195,"r":0.48},{"t":1197,"r":-0.66},{"t":1198,"r":1.22},
{"t":302,"r":-0.84},{"t":305,"r":1.36},{"t":308,"r":0.12},{"t":311,"r":-1.57},{"t":314,"r":0.68},{"t":317,"r":2.04},{"t":320,"r":-0.33},{"t":323,"r":-1.12},{"t":326,"r":0.91},{"t":329,"r":0.27},
{"t":332,"r":-2.15},{"t":335,"r":0.54},{"t":338,"r":1.18},{"t":341,"r":-0.46},{"t":344,"r":-0.97},{"t":347,"r":1.63},{"t":350,"r":0.08},{"t":353,"r":-1.38},{"t":356,"r":2.42},{"t":359,"r":-0.19},
{"t":362,"r":0.73},{"t":365,"r":-0.62},{"t":368,"r":-1.81},{"t":371,"r":0.35},{"t":374,"r":1.47},{"t":377,"r":-0.25},{"t":380,"r":0.99},{"t":383,"r":-2.58},{"t":386,"r":0.41},{"t":389,"r":1.06},
{"t":392,"r":-0.57},{"t":395,"r":1.89},{"t":398,"r":-1.04},{"t":401,"r":0.16},{"t":404,"r":0.62},{"t":407,"r":-1.43},{"t":410,"r":2.21},{"t":413,"r":-0.71},{"t":416,"r":0.03},{"t":419,"r":-1.66},
{"t":422,"r":1.24},{"t":425,"r":-0.38},{"t":428,"r":0.57},{"t":431,"r":-2.01},{"t":434,"r":0.86},{"t":437,"r":1.52},{"t":440,"r":-0.89},{"t":443,"r":0.22},{"t":446,"r":-1.29},{"t":449,"r":2.63},
{"t":452,"r":-0.14},{"t":455,"r":0.78},{"t":458,"r":-1.71},{"t":461,"r":1.09},{"t":464,"r":-0.52},{"t":467,"r":0.31},{"t":470,"r":1.81},{"t":473,"r":-2.27},{"t":476,"r":0.44},{"t":479,"r":-0.66},
{"t":482,"r":0.95},{"t":485,"r":-1.18},{"t":488,"r":2.16},{"t":491,"r":-0.23},{"t":494,"r":-1.52},{"t":497,"r":0.69},{"t":500,"r":0.11},{"t":503,"r":-0.81},{"t":506,"r":1.38},{"t":509,"r":-1.94},
{"t":512,"r":0.52},{"t":515,"r":1.71},{"t":518,"r":-0.44},{"t":521,"r":-1.07},{"t":524,"r":0.28},{"t":527,"r":2.37},{"t":530,"r":-0.93},{"t":533,"r":0.64},{"t":536,"r":-1.36},{"t":539,"r":0.17},
{"t":542,"r":-0.78},{"t":545,"r":1.14},{"t":548,"r":-2.41},{"t":551,"r":0.49},{"t":554,"r":0.86},{"t":557,"r":-0.31},{"t":560,"r":1.57},{"t":563,"r":-1.13},{"t":566,"r":0.06},{"t":569,"r":2.08},
{"t":572,"r":-1.47},{"t":575,"r":0.36},{"t":578,"r":0.92},{"t":581,"r":-0.58},{"t":584,"r":1.66},{"t":587,"r":-1.89},{"t":590,"r":0.21},{"t":593,"r":1.02},{"t":596,"r":-0.72},{"t":599,"r":-2.33},
{"t":602,"r":1.43},{"t":605,"r":-0.17},{"t":608,"r":0.63},{"t":611,"r":-1.26},{"t":614,"r":2.29},{"t":617,"r":-0.49},{"t":620,"r":-0.96},{"t":623,"r":1.21},{"t":626,"r":0.37},{"t":629,"r":-1.61},
{"t":632,"r":0.84},{"t":635,"r":-2.07},{"t":638,"r":1.34},{"t":641,"r":0.02},{"t":644,"r":-0.67},{"t":647,"r":1.77},{"t":650,"r":-1.16},{"t":653,"r":0.47},{"t":656,"r":2.51},{"t":659,"r":-0.36},
{"t":662,"r":-0.94},{"t":665,"r":0.58},{"t":668,"r":-1.52},{"t":671,"r":1.19},{"t":674,"r":0.26},{"t":677,"r":-0.83},{"t":680,"r":2.12},{"t":683,"r":-1.97},{"t":686,"r":0.71},{"t":689,"r":0.13},
{"t":692,"r":1.61},{"t":695,"r":-0.42},{"t":698,"r":-1.34},{"t":701,"r":0.89},{"t":704,"r":-2.36},{"t":707,"r":0.33},{"t":710,"r":1.28},{"t":713,"r":-0.76},{"t":716,"r":0.55},{"t":719,"r":-1.09},
{"t":722,"r":2.24},{"t":725,"r":-0.61},{"t":728,"r":0.18},{"t":731,"r":-1.73},{"t":734,"r":1.07},{"t":737,"r":0.42},{"t":740,"r":-1.21},{"t":743,"r":1.96},{"t":746,"r":-0.28},{"t":749,"r":-2.62},
{"t":752,"r":0.76},{"t":755,"r":1.44},{"t":758,"r":-0.53},{"t":761,"r":-1.39},{"t":764,"r":0.97},{"t":767,"r":-0.04},{"t":770,"r":1.68},{"t":773,"r":-2.11},{"t":776,"r":0.39},{"t":779,"r":0.84},
{"t":782,"r":-1.32},{"t":785,"r":0.61},{"t":788,"r":2.33},{"t":791,"r":-0.87},{"t":794,"r":0.14},{"t":797,"r":-1.64},{"t":800,"r":1.25},{"t":803,"r":0.47},{"t":806,"r":-0.59},{"t":809,"r":1.83},
{"t":812,"r":-2.03},{"t":815,"r":0.29},{"t":818,"r":-0.74},{"t":821,"r":1.51},{"t":824,"r":0.82},{"t":827,"r":-1.27},{"t":830,"r":0.05},{"t":833,"r":2.45},{"t":836,"r":-0.98},{"t":839,"r":0.36},
{"t":842,"r":1.13},{"t":845,"r":-1.79},{"t":848,"r":0.67},{"t":851,"r":-0.21},{"t":854,"r":1.92},{"t":857,"r":-0.62},{"t":860,"r":-1.48},{"t":863,"r":0.94},{"t":866,"r":0.23},{"t":869,"r":-2.19},
{"t":872,"r":0.57},{"t":875,"r":1.37},{"t":878,"r":-0.88},{"t":881,"r":2.06},{"t":884,"r":-1.02},{"t":887,"r":0.31},{"t":890,"r":-0.46},{"t":893,"r":1.59},{"t":896,"r":-1.91},{"t":899,"r":0.72},
{"t":902,"r":-0.36},{"t":905,"r":2.18},{"t":908,"r":-1.43},{"t":911,"r":0.48},{"t":914,"r":0.91},{"t":917,"r":-0.67},{"t":920,"r":1.26},{"t":923,"r":-2.49},{"t":926,"r":0.15},{"t":929,"r":1.04},
{"t":932,"r":-1.17},{"t":935,"r":0.59},{"t":938,"r":1.78},{"t":941,"r":-0.41},{"t":944,"r":-1.86},{"t":947,"r":0.83},{"t":950,"r":0.26},{"t":953,"r":2.39},{"t":956,"r":-0.73},{"t":959,"r":-1.24},
{"t":962,"r":1.36},{"t":965,"r":-0.09},{"t":968,"r":-1.68},{"t":971,"r":0.77},{"t":974,"r":2.01},{"t":977,"r":-1.39},{"t":980,"r":0.44},{"t":983,"r":-0.57},{"t":986,"r":1.14},{"t":989,"r":-2.26},
{"t":992,"r":0.62},{"t":995,"r":1.87},{"t":998,"r":-0.95},{"t":1001,"r":0.18},{"t":1004,"r":-1.54},{"t":1007,"r":1.29},{"t":1010,"r":-0.32},{"t":1013,"r":2.55},{"t":1016,"r":-1.06},{"t":1019,"r":0.41},
{"t":1022,"r":-0.79},{"t":1025,"r":0.93},{"t":1028,"r":-2.12},{"t":1031,"r":1.46},{"t":1034,"r":0.07},{"t":1037,"r":-0.64},{"t":1040,"r":1.73},{"t":1043,"r":-1.33},{"t":1046,"r":0.52},{"t":1049,"r":2.27},
{"t":1052,"r":-1.59},{"t":1055,"r":0.34},{"t":1058,"r":1.08},{"t":1061,"r":-0.47},{"t":1064,"r":-2.04},{"t":1067,"r":0.86},{"t":1070,"r":1.62},{"t":1073,"r":-0.84},{"t":1076,"r":0.29},{"t":1079,"r":-1.22},
{"t":1082,"r":1.97},{"t":1085,"r":-0.53},{"t":1088,"r":0.74},{"t":1091,"r":-1.71},{"t":1094,"r":0.39},{"t":1097,"r":2.31},{"t":1100,"r":-0.96},{"t":1103,"r":0.12},{"t":1106,"r":-1.42},{"t":1109,"r":1.18},
{"t":1112,"r":-0.28},{"t":1115,"r":1.53},{"t":1118,"r":-2.32},{"t":1121,"r":0.68},{"t":1124,"r":1.01},{"t":1127,"r":-0.71},{"t":1130,"r":0.24},{"t":1133,"r":-1.49},{"t":1136,"r":2.16},{"t":1139,"r":-0.43},
{"t":1142,"r":0.88},{"t":1145,"r":-1.25},{"t":1148,"r":1.74},{"t":1151,"r":-0.61},{"t":1154,"r":0.37},{"t":1157,"r":-1.97},{"t":1160,"r":1.21},{"t":1163,"r":0.53},{"t":1166,"r":-0.86},{"t":1169,"r":2.48},
{"t":1172,"r":-1.63},{"t":1175,"r":0.19},{"t":1178,"r":0.96},{"t":1181,"r":-0.39},{"t":1184,"r":1.58},{"t":1187,"r":-2.14},{"t":1190,"r":0.71},{"t":1193,"r":1.34},{"t":1196,"r":-0.92},{"t":1199,"r":0.27}
]
},
"vconcat":[
{"width":565,"height":594,
"layer":[
{"data":{"name":"decay"},"mark":{"type":"square","size":15,"color":"#000","opacity":1},
"encoding":{
"x":{"field":"t","type":"quantitative","scale":{"domain":[0,1200],"nice":false,"zero":false},
"axis":{"values":[0,100,200,300,400,500,600,700,800,900,1000,1100,1200],"labels":false,"tickSize":6,"title":null}},
"y":{"field":"c","type":"quantitative","scale":{"type":"log","domain":[10,1476],"nice":false},
"axis":{"values":[10,20,30,40,50,60,70,80,90,100,200,300,400,500,600,700,800,900,1000],
"labelExpr":"datum.value == 1000 ? '10³' : datum.value == 100 ? '10²' : datum.value == 10 ? '10¹' : ''",
"labelFontSize":19,
"tickSize":{"condition":{"test":"datum.value == 10 || datum.value == 100 || datum.value == 1000","value":9},"value":4},
"labelPadding":1,"title":"counts","titleFontSize":29,"titleX":-60,"titleY":268,"titleBaseline":"alphabetic","titleAngle":270}}}},
{"data":{"name":"fit"},"mark":{"type":"line","color":"#e8a080","strokeWidth":3.5},
"encoding":{"x":{"field":"t","type":"quantitative"},"y":{"field":"c","type":"quantitative"}}},
{"data":{"values":[{}]},"mark":{"type":"text","text":"5","font":"Liberation Serif","fontSize":106,"align":"left","baseline":"alphabetic","color":"#000"},
"encoding":{"x":{"datum":700},"y":{"datum":286}}},
{"data":{"values":[{}]},"mark":{"type":"text","text":"D","font":"Liberation Serif","fontStyle":"italic","fontSize":106,"align":"left","baseline":"alphabetic","color":"#000"},
"encoding":{"x":{"datum":812},"y":{"datum":286}}},
{"data":{"values":[{}]},"mark":{"type":"text","text":"3/2","font":"Liberation Serif","fontSize":74,"align":"left","baseline":"alphabetic","color":"#000"},
"encoding":{"x":{"datum":972},"y":{"datum":211}}},
{"data":{"values":[{}]},"mark":{"type":"text","text":"n","font":"Liberation Sans","fontSize":50,"align":"right","baseline":"alphabetic","color":"#000"},
"encoding":{"x":{"datum":-183},"y":{"datum":216.6}}}
]},
{"width":565,"height":300,"data":{"name":"resid"},
"mark":{"type":"circle","size":13,"color":"#000","opacity":1},
"encoding":{
"x":{"field":"t","type":"quantitative","scale":{"domain":[0,1200],"nice":false,"zero":false},
"axis":{"values":[0,100,200,300,400,500,600,700,800,900,1000,1100,1200],
"labelExpr":"datum.value % 200 == 0 ? '' + datum.value : ''",
"tickSize":{"condition":{"test":"datum.value % 200 == 0","value":8},"value":5},
"labelPadding":3,"title":"time (ns)","titleFontSize":26,"titleY":59,"titleBaseline":"alphabetic"}},
"y":{"field":"r","type":"quantitative","scale":{"domain":[-3,3],"nice":false,"zero":false},
"axis":{"values":[-3,-2.5,-2,-1.5,-1,-0.5,0,0.5,1,1.5,2,2.5,3],
"labelExpr":"datum.value % 1 == 0 ? '' + datum.value : ''",
"tickSize":{"condition":{"test":"datum.value % 1 == 0","value":8},"value":4},
"labelPadding":10,"title":"residuals/σ","titleFontSize":33,"titleX":-58,"titleY":154,"titleBaseline":"alphabetic","titleAngle":270}}}}
]
}
